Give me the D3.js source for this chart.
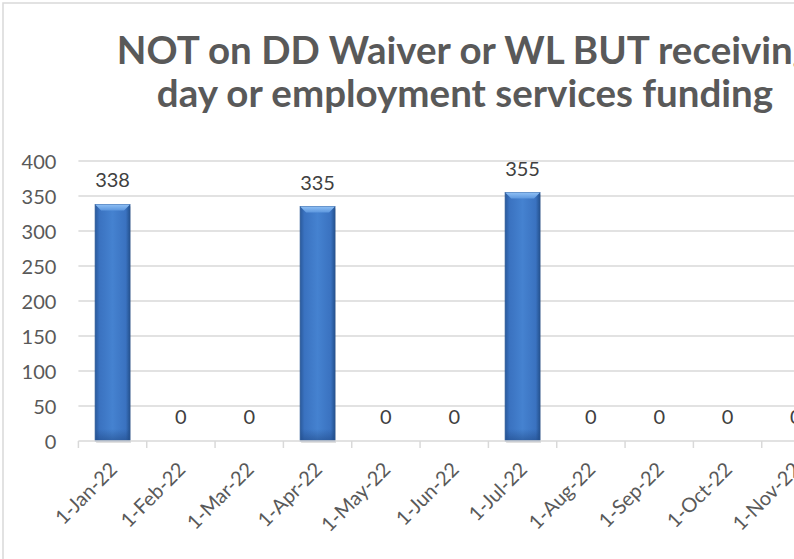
<!DOCTYPE html>
<html>
<head>
<meta charset="utf-8">
<script src="https://cdn.jsdelivr.net/npm/d3@7"></script>
<style>
  html, body { margin: 0; padding: 0; background: #fff; overflow: hidden; }
  svg { display: block; }
  text { font-family: Lato, "Open Sans", sans-serif; }
</style>
</head>
<body>
<div id="chart"></div>
<script>
const categories = ["1-Jan-22","1-Feb-22","1-Mar-22","1-Apr-22","1-May-22","1-Jun-22","1-Jul-22","1-Aug-22","1-Sep-22","1-Oct-22","1-Nov-22","1-Dec-22"];
const values = [338, 0, 0, 335, 0, 0, 355, 0, 0, 0, 0, 0];
const yTicks = [0, 50, 100, 150, 200, 250, 300, 350, 400];
const titleLines = ["NOT on DD Waiver or WL BUT receiving", "day or employment services funding"];

const W = 930, H = 600;
const margin = { left: 78.4, right: 31.6, top: 161, bottom: 159 };
const svg = d3.select("#chart").append("svg").attr("width", W).attr("height", H);

// outer chart border
svg.append("rect").attr("x", 3).attr("y", 3).attr("width", W - 6).attr("height", H - 6)
  .attr("fill", "#fff").attr("stroke", "#d9d9d9").attr("stroke-width", 1.5);

const x = d3.scaleBand().domain(categories)
  .range([margin.left, W - margin.right]).paddingInner(0.49).paddingOuter(0.245);
const y = d3.scaleLinear().domain([0, 400]).range([H - margin.bottom, margin.top]);

// title
const title = svg.append("text").attr("text-anchor", "middle")
  .attr("fill", "#595959").attr("font-weight", "bold").attr("font-size", 38.5);
titleLines.forEach((t, i) => {
  title.append("tspan").attr("x", 465).attr("y", 64 + i * 42.5).text(t);
});

// gridlines
svg.append("g").selectAll("line").data(yTicks.filter(d => d > 0)).join("line")
  .attr("x1", margin.left).attr("x2", W - margin.right)
  .attr("y1", d => y(d)).attr("y2", d => y(d))
  .attr("stroke", "#d9d9d9").attr("stroke-width", 1.3);

// y axis
const yAxis = svg.append("g").attr("transform", `translate(${margin.left - 22},0)`)
  .call(d3.axisLeft(y).tickValues(yTicks).tickSize(0).tickPadding(0));
yAxis.select(".domain").remove();
yAxis.selectAll("text").attr("font-size", 20).attr("fill", "#595959")
  .attr("font-family", "Lato, sans-serif").attr("dy", "0.35em");

// defs for bar gradients
const defs = svg.append("defs");
const g1 = defs.append("linearGradient").attr("id", "barH").attr("x1", 0).attr("x2", 1).attr("y1", 0).attr("y2", 0);
[[0, "#2a5a9c"], [0.12, "#3a72c0"], [0.5, "#4582d0"], [0.88, "#3a72c0"], [1, "#24528f"]]
  .forEach(([o, c]) => g1.append("stop").attr("offset", o).attr("stop-color", c));
const g2 = defs.append("linearGradient").attr("id", "barTop").attr("x1", 0).attr("x2", 0).attr("y1", 0).attr("y2", 1);
[[0, "#8fc0f5"], [1, "#5d97de"]].forEach(([o, c]) => g2.append("stop").attr("offset", o).attr("stop-color", c));
const g3 = defs.append("linearGradient").attr("id", "barBot").attr("x1", 0).attr("x2", 0).attr("y1", 0).attr("y2", 1);
[[0, "rgba(30,70,130,0)"], [1, "rgba(30,70,130,0.55)"]].forEach(([o, c]) => g3.append("stop").attr("offset", o).attr("stop-color", c));

// bars
const bars = svg.append("g").selectAll("g").data(categories.map((c, i) => ({ c, v: values[i] })))
  .join("g").filter(d => d.v > 0);
bars.append("rect").attr("x", d => x(d.c) + 1).attr("y", d => y(d.v) + 2)
  .attr("width", x.bandwidth()).attr("height", d => y(0) - y(d.v))
  .attr("fill", "rgba(0,0,0,0.12)");
bars.append("rect").attr("x", d => x(d.c)).attr("y", d => y(d.v))
  .attr("width", x.bandwidth()).attr("height", d => y(0) - y(d.v))
  .attr("fill", "url(#barH)").attr("stroke", "#2a5796").attr("stroke-width", 0.8);
bars.append("path").attr("d", d => {
  const x0 = x(d.c), x1 = x0 + x.bandwidth(), t = y(d.v), b = 6;
  return `M${x0},${t}L${x1},${t}L${x1 - b},${t + b}L${x0 + b},${t + b}Z`;
}).attr("fill", "url(#barTop)");
bars.append("rect").attr("x", d => x(d.c) + 0.5).attr("y", y(0) - 12)
  .attr("width", x.bandwidth() - 1).attr("height", 12).attr("fill", "url(#barBot)");

// x axis line and ticks
svg.append("line").attr("x1", margin.left).attr("x2", W - margin.right)
  .attr("y1", y(0)).attr("y2", y(0)).attr("stroke", "#d9d9d9").attr("stroke-width", 1.5);
const boundaries = categories.map(c => x(c) - x.step() * x.paddingOuter());
boundaries.push(W - margin.right);
svg.append("g").selectAll("line").data(boundaries).join("line")
  .attr("x1", d => d).attr("x2", d => d).attr("y1", y(0)).attr("y2", y(0) + 7)
  .attr("stroke", "#d9d9d9").attr("stroke-width", 1.5);

// x labels
svg.append("g").selectAll("text").data(categories).join("text")
  .attr("transform", d => `translate(${x(d) + x.bandwidth() / 2 - 4},${y(0) + 20}) rotate(-45)`)
  .attr("text-anchor", "end").attr("dy", "0.7em")
  .attr("font-size", 20).attr("fill", "#595959").text(d => d);

// data labels
svg.append("g").selectAll("text").data(categories.map((c, i) => ({ c, v: values[i] }))).join("text")
  .attr("x", d => x(d.c) + x.bandwidth() / 2).attr("y", d => y(d.v) - 17)
  .attr("text-anchor", "middle").attr("font-size", 20).attr("fill", "#404040").text(d => d.v);
</script>
</body>
</html>
